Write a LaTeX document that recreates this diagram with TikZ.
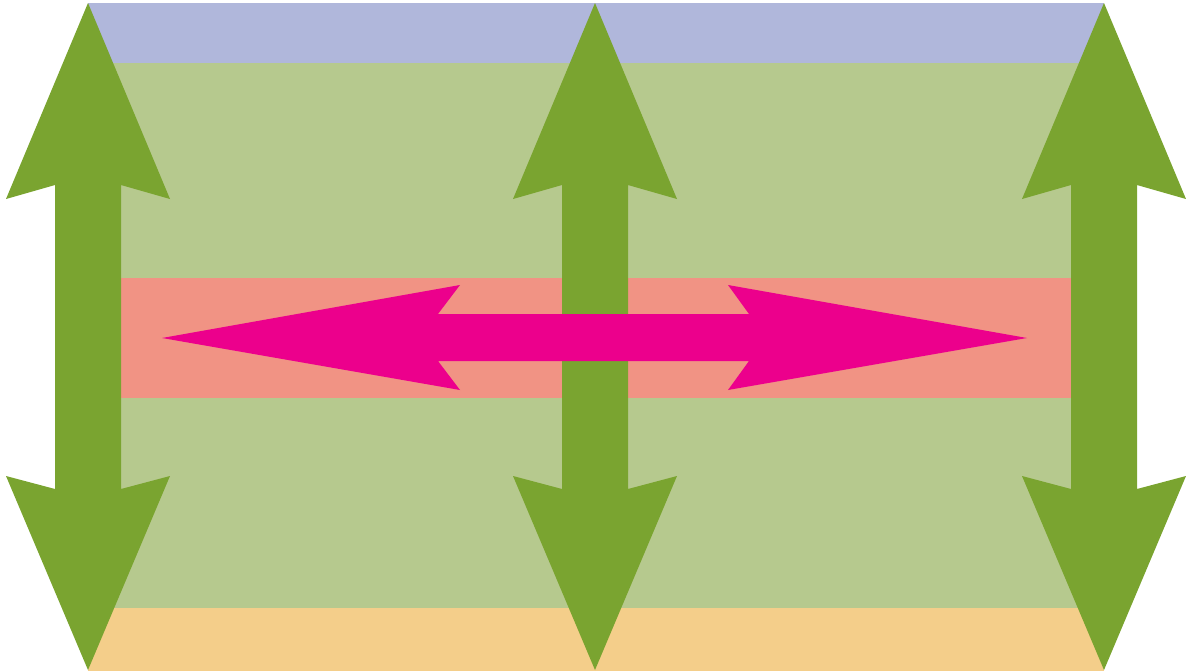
\documentclass[tikz,border=0pt]{standalone}
\usepackage{xcolor}
\usepackage{tikz}
\definecolor{bandblue}{RGB}{176,183,219}
\definecolor{bandgreen}{RGB}{182,201,142}
\definecolor{bandred}{RGB}{241,147,132}
\definecolor{bandorange}{RGB}{244,206,138}
\definecolor{arrowgreen}{RGB}{122,164,48}
\definecolor{arrowpink}{RGB}{236,0,140}
\tikzstyle{band}=[draw=none]
\tikzstyle{vshape}=[fill=arrowgreen,draw=none]
\tikzstyle{hshape}=[fill=arrowpink,draw=none]

\begin{document}
\begin{tikzpicture}[x=0.025cm,y=-0.025cm]
      \useasboundingbox (0,0) rectangle (1186,671);
      % layers
      \fill[band,bandblue] (88,3) rectangle (1104,63);
      \fill[band,bandgreen] (88,63) rectangle (1104,278);
      \fill[band,bandred] (88,278) rectangle (1104,398);
      \fill[band,bandgreen] (88,398) rectangle (1104,608);
      \fill[band,bandorange] (88,608) rectangle (1104,671);
      % vertical double arrows
      \foreach \cx in {88,595,1104}{
        \fill[vshape] (\cx,3) -- (\cx+82,199) -- (\cx+33,185) -- (\cx+33,489)
          -- (\cx+82,476) -- (\cx,670) -- (\cx-82,476) -- (\cx-33,489)
          -- (\cx-33,185) -- (\cx-82,199) -- cycle;
      }
      % horizontal double arrow
      \fill[hshape] (162,338) -- (460,285) -- (438,314) -- (749,314) -- (728,285)
        -- (1027,338) -- (728,390) -- (749,361) -- (438,361) -- (460,390) -- cycle;
    \end{tikzpicture}
\end{document}
